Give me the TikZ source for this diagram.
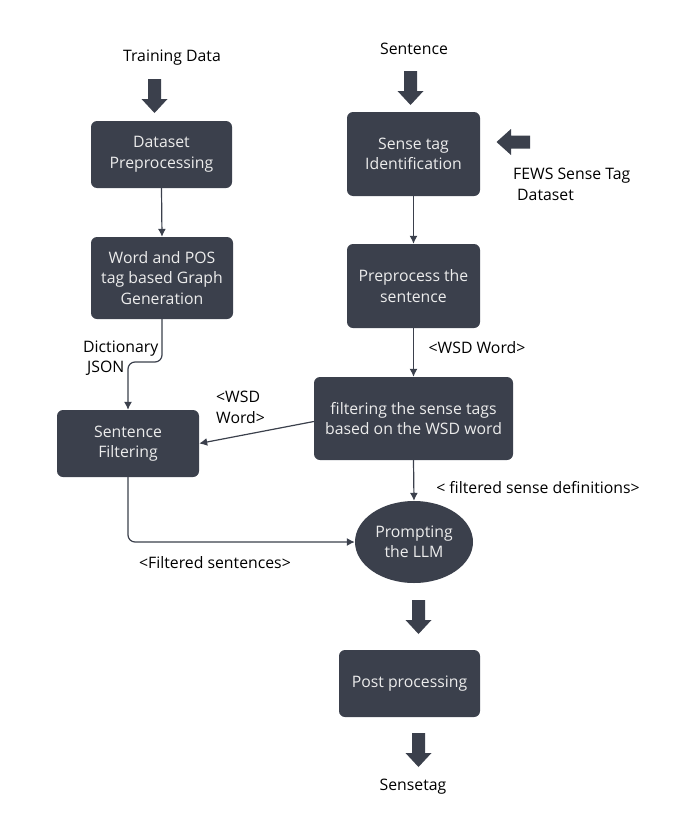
\documentclass[tikz,border=0pt]{standalone}
\usepackage{fontspec}
\setmainfont{Open Sans}
\usetikzlibrary{arrows.meta,shapes.geometric}
\definecolor{boxfill}{RGB}{59,64,76}
\definecolor{boxtext}{RGB}{236,236,236}
\tikzset{
  every node/.style={font=\fontsize{15.8}{20.5}\selectfont},
  box/.style={draw=none,fill=boxfill,text=boxtext,rounded corners=6pt,align=center,inner sep=2pt},
  ell/.style={ellipse,fill=boxfill,text=boxtext,align=center,inner sep=0pt},
  lbl/.style={text=black,inner sep=0pt},
  conn/.style={draw=boxfill,line width=1.2pt,-{Latex[length=8pt,width=8pt]}},
  barrow/.style={fill=boxfill,draw=none},
}
\begin{document}
\begin{tikzpicture}[x=1pt,y=-1pt]
\useasboundingbox (0,0) rectangle (695,835);
% boxes
\node[box,minimum width=141pt,minimum height=67pt] (dp) at (161.5,154.5) {Dataset\\Preprocessing};
\node[box,minimum width=142pt,minimum height=82pt] (wp) at (162,278) {Word and POS\\tag based Graph\\Generation};
\node[box,minimum width=133pt,minimum height=84pt] (st) at (413.5,154) {Sense tag\\Identification};
\node[box,minimum width=133pt,minimum height=84pt] (pp) at (413.5,286) {Preprocess the\\sentence};
\node[box,minimum width=199pt,minimum height=83pt] (fs) at (413.5,418.5) {filtering the sense tags\\based on the WSD word};
\node[box,minimum width=142pt,minimum height=67pt] (sf) at (128,443.5) {Sentence\\Filtering};
\node[ell,minimum width=118pt,minimum height=82pt] (llm) at (414,542) {Prompting\\the LLM};
\node[box,minimum width=141pt,minimum height=67pt] (post) at (409.5,683.5) {Post processing};
% labels
\node[lbl] (ltrain) at (172,58) {Training Data};
\node[lbl] (lsent) at (414,49) {Sentence};
\node[lbl,align=left,anchor=west] (lfews) at (513,184.5) {FEWS Sense Tag\\\hspace*{4pt}Dataset};
\node[lbl] (lwsd1) at (477,348) {<WSD Word>};
\node[lbl,align=left,anchor=west] (ldict) at (83,358) {Dictionary\\\hspace*{4pt}JSON};
\node[lbl,align=left,anchor=west] (lwsd2) at (216,407.5) {<WSD\\Word>};
\node[lbl] (lfsd) at (538,488) {< filtered sense definitions>};
\node[lbl] (lfsent) at (215,563) {<Filtered sentences>};
\node[lbl] (lsense) at (413,787) {Sensetag};
% connectors
\draw[conn] (dp.south) -- (wp.north);
\draw[conn] (st.south) -- (pp.north);
\draw[conn] (pp.south) -- (fs.north);
\draw[conn] (fs.south) -- (llm.north);
\draw[conn,rounded corners=7pt] (wp.south) -- (wp.south |- 0,362) -| (sf.north);
\draw[conn] ([yshift=-3pt]fs.west) -- (sf.east);
\draw[conn,rounded corners=7pt] (sf.south) |- (llm.west);
% block arrows
\fill[barrow] (148,79) -- (161,79) -- (161,99) -- (167.5,99) -- (154.5,113) -- (141.5,99) -- (148,99) -- cycle;
\fill[barrow] (404,71) -- (417,71) -- (417,91) -- (423.5,91) -- (410.5,105) -- (397.5,91) -- (404,91) -- cycle;
\fill[barrow] (530,135.5) -- (530,148.5) -- (511,148.5) -- (511,155) -- (496.5,142) -- (511,129) -- (511,135.5) -- cycle;
\fill[barrow] (412,600) -- (425,600) -- (425,620) -- (431.5,620) -- (418.5,634) -- (405.5,620) -- (412,620) -- cycle;
\fill[barrow] (412,733) -- (425,733) -- (425,753) -- (431.5,753) -- (418.5,767) -- (405.5,753) -- (412,753) -- cycle;
\end{tikzpicture}
\end{document}
